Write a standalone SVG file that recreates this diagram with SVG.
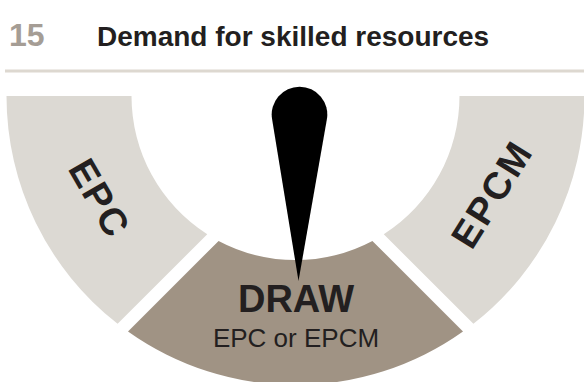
<svg xmlns="http://www.w3.org/2000/svg" width="584" height="382" viewBox="0 0 584 382">
<style>
.light{fill:#DCD9D3}
.brown{fill:#A09384}
.lbl{font-family:"Liberation Sans",Arial,sans-serif;font-weight:bold;fill:#231F20;text-anchor:middle}
.seg{font-size:38px;letter-spacing:2px}
</style>
<rect width="584" height="382" fill="#FFFFFF"/>
<g id="title">
<text x="9" y="46" font-family="Liberation Sans, Arial, sans-serif" font-weight="bold" font-size="32" fill="#A59D95">15</text>
<text x="97" y="46" font-family="Liberation Sans, Arial, sans-serif" font-weight="bold" font-size="28" fill="#231F20">Demand for skilled resources</text>
<rect x="5" y="69.5" width="579" height="3" fill="#DDD8D0"/>
</g>
<g id="seg-epc">
<path class="light" d="M 6.5 96 L 131.5 96 A 164 164 0 0 0 207.25 234.24 L 117.6 323.8 A 289 289 0 0 1 6.5 96 Z"/>
<text class="lbl seg" transform="translate(100 198) rotate(60)" y="13.6">EPC</text>
</g>
<g id="seg-draw">
<path class="brown" d="M 218.6 240.9 A 164 164 0 0 0 372.4 240.9 L 463 331.5 A 289 289 0 0 1 128 331.5 Z"/>
<text class="lbl" x="296" y="312" font-size="38">DRAW</text>
<text class="lbl" x="296" y="347" font-size="26" font-weight="normal" style="font-weight:normal">EPC or EPCM</text>
</g>
<g id="seg-epcm">
<path class="light" d="M 459.5 96 L 584.5 96 A 289 289 0 0 1 473.4 323.8 L 383.75 234.24 A 164 164 0 0 0 459.5 96 Z"/>
<text class="lbl seg" transform="translate(491.5 194) rotate(-58)" y="13.6">EPCM</text>
</g>
<g id="needle">
<path fill="#000000" d="M 298.5 281 L 272.06 118.97 A 27.8 27.8 0 1 1 326.88 119.3 Z"/>
</g>
<g id="connectors"></g>
</svg>
